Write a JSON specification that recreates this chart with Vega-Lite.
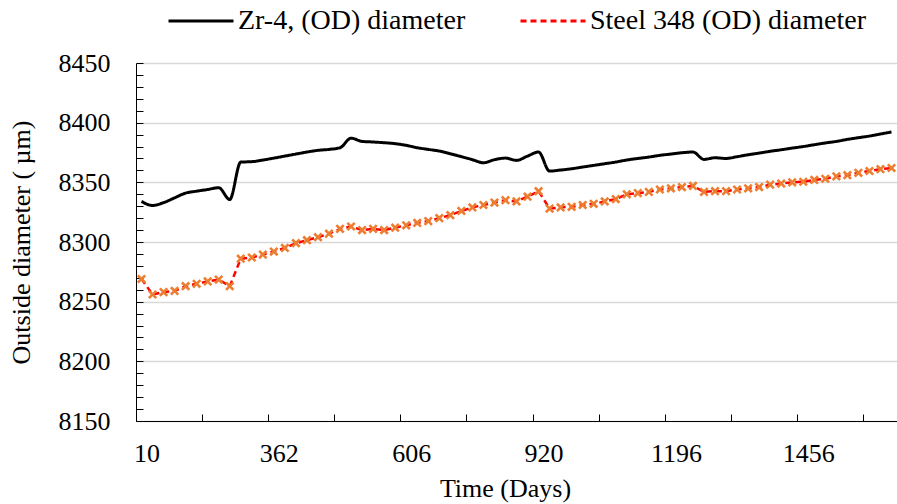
{
  "$schema": "https://vega.github.io/schema/vega-lite/v6.json",
  "autosize": {"type": "none"},
  "padding": {"left": 136, "top": 63, "right": 0, "bottom": 83},
  "width": 761,
  "height": 358,
  "config": {
    "view": {"stroke": null},
    "font": "Liberation Serif"
  },
  "data": {
    "values": [
      {"day": 10, "zr": 8334, "steel": 8269},
      {"day": 39, "zr": 8330.6, "steel": 8256},
      {"day": 69, "zr": 8333, "steel": 8258},
      {"day": 98, "zr": 8337, "steel": 8259},
      {"day": 127, "zr": 8341, "steel": 8263},
      {"day": 157, "zr": 8342.6, "steel": 8265},
      {"day": 186, "zr": 8344, "steel": 8267},
      {"day": 215, "zr": 8345.5, "steel": 8268.5},
      {"day": 245, "zr": 8335.6, "steel": 8263},
      {"day": 274, "zr": 8367, "steel": 8286},
      {"day": 303, "zr": 8367.3, "steel": 8287},
      {"day": 333, "zr": 8368.7, "steel": 8289.5},
      {"day": 362, "zr": 8370.3, "steel": 8292},
      {"day": 382, "zr": 8372, "steel": 8295},
      {"day": 403, "zr": 8373.7, "steel": 8299},
      {"day": 423, "zr": 8375.4, "steel": 8301.5},
      {"day": 443, "zr": 8376.8, "steel": 8304},
      {"day": 464, "zr": 8377.6, "steel": 8307},
      {"day": 484, "zr": 8379, "steel": 8311},
      {"day": 504, "zr": 8387, "steel": 8313},
      {"day": 525, "zr": 8384.3, "steel": 8310},
      {"day": 545, "zr": 8383.8, "steel": 8311},
      {"day": 565, "zr": 8383.2, "steel": 8310},
      {"day": 586, "zr": 8382.4, "steel": 8312},
      {"day": 606, "zr": 8381, "steel": 8314},
      {"day": 632, "zr": 8379, "steel": 8316},
      {"day": 658, "zr": 8377.6, "steel": 8317.5},
      {"day": 685, "zr": 8376.2, "steel": 8320},
      {"day": 711, "zr": 8374, "steel": 8322.5},
      {"day": 737, "zr": 8371.5, "steel": 8326},
      {"day": 763, "zr": 8369, "steel": 8329},
      {"day": 789, "zr": 8366.4, "steel": 8331},
      {"day": 815, "zr": 8369, "steel": 8333},
      {"day": 842, "zr": 8370.3, "steel": 8335},
      {"day": 868, "zr": 8368.4, "steel": 8334},
      {"day": 894, "zr": 8372, "steel": 8338},
      {"day": 920, "zr": 8375.4, "steel": 8342.6},
      {"day": 943, "zr": 8359.4, "steel": 8328},
      {"day": 966, "zr": 8360.3, "steel": 8329},
      {"day": 989, "zr": 8361.4, "steel": 8329.5},
      {"day": 1012, "zr": 8362.8, "steel": 8331},
      {"day": 1035, "zr": 8364.2, "steel": 8332},
      {"day": 1058, "zr": 8365.6, "steel": 8334},
      {"day": 1081, "zr": 8367, "steel": 8336},
      {"day": 1104, "zr": 8368.7, "steel": 8340},
      {"day": 1127, "zr": 8370, "steel": 8341},
      {"day": 1150, "zr": 8371.2, "steel": 8342},
      {"day": 1173, "zr": 8372.6, "steel": 8344},
      {"day": 1196, "zr": 8373.7, "steel": 8345},
      {"day": 1218, "zr": 8374.8, "steel": 8346},
      {"day": 1239, "zr": 8375.4, "steel": 8347},
      {"day": 1261, "zr": 8369.2, "steel": 8342},
      {"day": 1283, "zr": 8370.6, "steel": 8342.6},
      {"day": 1304, "zr": 8370, "steel": 8342.6},
      {"day": 1326, "zr": 8371.5, "steel": 8344},
      {"day": 1348, "zr": 8373.1, "steel": 8345},
      {"day": 1369, "zr": 8374.5, "steel": 8346},
      {"day": 1391, "zr": 8376, "steel": 8348},
      {"day": 1413, "zr": 8377.3, "steel": 8349},
      {"day": 1434, "zr": 8378.7, "steel": 8350},
      {"day": 1456, "zr": 8380, "steel": 8350.5},
      {"day": 1478, "zr": 8381.5, "steel": 8352},
      {"day": 1499, "zr": 8383, "steel": 8353},
      {"day": 1521, "zr": 8384.3, "steel": 8355},
      {"day": 1543, "zr": 8386, "steel": 8356},
      {"day": 1564, "zr": 8387.4, "steel": 8358},
      {"day": 1586, "zr": 8388.8, "steel": 8359.5},
      {"day": 1608, "zr": 8390.5, "steel": 8361},
      {"day": 1629, "zr": 8392.2, "steel": 8362}
    ]
  },
  "transform": [{"fold": ["zr", "steel"], "as": ["series", "value"]}],
  "resolve": {"axis": {"y": "independent"}},
  "layer": [
    {
      "transform": [{"filter": "datum.series == 'zr'"}],
      "mark": {"type": "line", "interpolate": "monotone", "strokeWidth": 3},
      "encoding": {
        "x": {
          "field": "day", "type": "ordinal", "bandPosition": 0.5,
          "scale": {"type": "band", "paddingInner": 0, "paddingOuter": 0},
          "axis": {
            "values": [10, 186, 362, 484, 606, 763, 920, 1058, 1196, 1326, 1456, 1586],
            "bandPosition": 0,
            "labelExpr": "indexof([10, 362, 606, 920, 1196, 1456], datum.value) >= 0 ? datum.label : ''",
            "labelOffset": 5.5,
            "labelAngle": 0,
            "labelOverlap": false,
            "labelFont": "Liberation Serif",
            "labelFontSize": 26,
            "labelColor": "black",
            "labelBaseline": "alphabetic",
            "labelPadding": 47,
            "tickSize": -7,
            "tickColor": "black",
            "domainColor": "black",
            "domainWidth": 1,
            "grid": false,
            "title": "Time (Days)",
            "titleFont": "Liberation Serif",
            "titleFontSize": 26,
            "titleFontWeight": "normal",
            "titleColor": "black",
            "titleX": 369,
            "titleY": 75,
            "titleBaseline": "alphabetic"
          }
        },
        "y": {
          "field": "value", "type": "quantitative",
          "scale": {"domain": [8150, 8450], "nice": false, "zero": false},
          "axis": {
            "orient": "left",
            "values": [8150, 8200, 8250, 8300, 8350, 8400, 8450],
            "format": "d",
            "grid": true,
            "gridColor": "#D9D9D9",
            "gridWidth": 1.5,
            "ticks": false,
            "domainColor": "black",
            "labelFont": "Liberation Serif",
            "labelFontSize": 26,
            "labelColor": "black",
            "labelPadding": 26,
            "title": "Outside diameter ( µm)",
            "titleFont": "Liberation Serif",
            "titleFontSize": 26,
            "titleFontWeight": "normal",
            "titleColor": "black",
            "titlePadding": 24
          }
        },
        "color": {
          "field": "series", "type": "nominal",
          "scale": {"domain": ["zr", "steel"], "range": ["#000000", "#FF0000"]},
          "legend": {
            "orient": "none", "legendX": 31, "legendY": -76, "direction": "horizontal",
            "title": null, "padding": 0,
            "symbolType": "stroke", "symbolSize": 4225, "symbolStrokeWidth": 3,
            "labelFont": "Liberation Serif", "labelFontSize": 28, "labelColor": "black",
            "labelOffset": 3, "columnPadding": 48, "labelLimit": 400,
            "labelExpr": "datum.label == 'zr' ? 'Zr-4, (OD) diameter' : 'Steel 348 (OD) diameter'"
          }
        },
        "strokeDash": {
          "field": "series", "type": "nominal",
          "scale": {"domain": ["zr", "steel"], "range": [[1, 0], [6, 4]]},
          "legend": null
        }
      }
    },
    {
      "transform": [{"filter": "datum.series == 'steel'"}],
      "mark": {"type": "line", "strokeWidth": 2.5},
      "encoding": {
        "x": {"field": "day", "type": "ordinal", "bandPosition": 0.5},
        "y": {"field": "value", "type": "quantitative", "axis": null},
        "color": {"field": "series", "type": "nominal"},
        "strokeDash": {"field": "series", "type": "nominal"}
      }
    },
    {
      "transform": [{"filter": "datum.series == 'steel'"}],
      "mark": {
        "type": "point", "filled": true, "color": "#ED7D31", "opacity": 1, "size": 85,
        "shape": "M-1,-0.6L-0.6,-1L0,-0.4L0.6,-1L1,-0.6L0.4,0L1,0.6L0.6,1L0,0.4L-0.6,1L-1,0.6L-0.4,0Z"
      },
      "encoding": {
        "x": {"field": "day", "type": "ordinal", "bandPosition": 0.5},
        "y": {
          "field": "value", "type": "quantitative",
          "axis": {
            "orient": "left",
            "values": [8150, 8160, 8170, 8180, 8190, 8200, 8210, 8220, 8230, 8240, 8250, 8260, 8270, 8280, 8290, 8300, 8310, 8320, 8330, 8340, 8350, 8360, 8370, 8380, 8390, 8400, 8410, 8420, 8430, 8440, 8450],
            "labels": false, "grid": false, "domain": false,
            "tickSize": -7, "tickColor": "black", "title": null
          }
        }
      }
    }
  ]
}
